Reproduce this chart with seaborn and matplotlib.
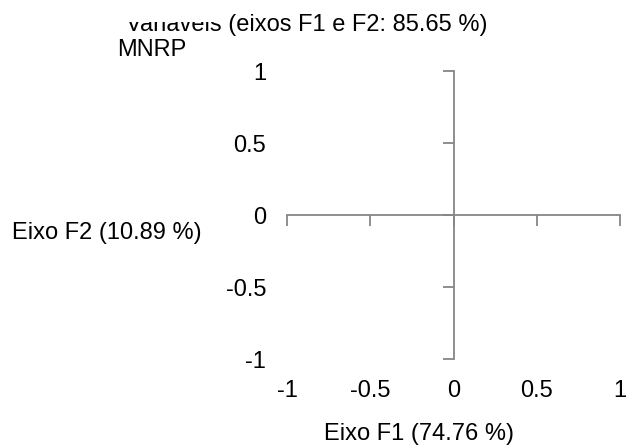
import matplotlib
matplotlib.use("Agg")
import matplotlib.pyplot as plt
import seaborn as sns
from matplotlib.patches import Rectangle

# axis ticks and labels
x_ticks = [-1, -0.5, 0, 0.5, 1]
y_ticks = [-1, -0.5, 0, 0.5, 1]
x_tick_labels = ["-1", "-0.5", "0", "0.5", "1"]
y_tick_labels = ["-1", "-0.5", "0", "0.5", "1"]
title = "Variáveis (eixos F1 e F2: 85.65 %)"
x_label = "Eixo F1 (74.76 %)"
y_label = "Eixo F2 (10.89 %)"
# variable label shown on the chart
var_names = ["MNRP"]

sns.set_style("white")
plt.rcParams["font.family"] = ["Liberation Sans", "DejaVu Sans"]
plt.rcParams["text.color"] = "black"

grey = "#868686"
fs = 17

fig = plt.figure(figsize=(6.27, 4.48), dpi=100)
ax = fig.add_axes([287 / 627, 89 / 448, 333 / 627, 288 / 448])
ax.set_xlim(-1, 1)
ax.set_ylim(-1, 1)

for s in ["top", "right"]:
    ax.spines[s].set_visible(False)
ax.spines["left"].set_position(("data", 0))
ax.spines["bottom"].set_position(("data", 0))
for s in ["left", "bottom"]:
    ax.spines[s].set_color(grey)
    ax.spines[s].set_linewidth(1.3)

ax.set_xticks(x_ticks)
ax.set_yticks(y_ticks)
ax.tick_params(axis="both", direction="out", length=8, width=1.3, color=grey,
               labelleft=False, labelbottom=False)
ax.tick_params(axis="x", bottom=True)
ax.tick_params(axis="y", left=True)

# tick labels at the outer edges, Excel-style "low" labels
secx = ax.secondary_xaxis(0)
secx.set_xticks(x_ticks, x_tick_labels)
secx.tick_params(length=0, pad=15, labelsize=fs, labelcolor="black")
secx.spines["bottom"].set_visible(False)

secy = ax.secondary_yaxis(0)
secy.set_yticks(y_ticks, y_tick_labels)
secy.tick_params(length=0, pad=15, labelsize=fs, labelcolor="black")
secy.spines["left"].set_visible(False)

ax.set_xlabel(x_label, fontsize=fs, color="black", va="center")
ax.xaxis.set_label_coords((419 - 287) / 333, (359 - 434) / 288)
ax.set_ylabel(y_label, fontsize=fs, color="black", rotation=0,
              ha="center", va="center")
ax.yaxis.set_label_coords((107 - 287) / 333, (359 - 233) / 288)

fig.text(307 / 627, 1 - 25 / 448, title, fontsize=fs, ha="center", va="center")
# the title's left part is hidden under a white box in the original
fig.patches.append(Rectangle((90 / 627, 1 - 22 / 448), 136 / 627, 22 / 448,
                             transform=fig.transFigure, facecolor="white",
                             edgecolor="none", zorder=5))
fig.text(152 / 627, 1 - 50 / 448, var_names[0], fontsize=fs, ha="center",
         va="center", zorder=6)

fig.savefig("out.png", dpi=100)
